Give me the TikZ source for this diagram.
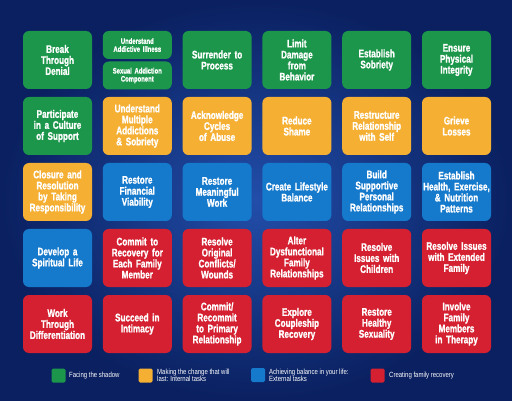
\documentclass[tikz,border=0pt]{standalone}
\usepackage{fontspec}
\newfontfamily\boxfont[FakeStretch=0.74,BoldFeatures={FakeBold=1.2}]{Liberation Sans}
\newfontfamily\legfont[FakeStretch=0.8]{Liberation Sans}
\def\juntar{\spaceskip=0.2em plus 0.1em\relax}

\definecolor{shadowgreen}{RGB}{28,150,74}
\definecolor{taskorange}{RGB}{245,176,52}
\definecolor{taskblue}{RGB}{22,122,204}
\definecolor{taskred}{RGB}{212,32,48}
\definecolor{fundo}{RGB}{10,32,96}
\definecolor{fundoclaro}{RGB}{34,78,170}

\tikzset{
  tarefa/.style={rounded corners=6pt, minimum width=69pt, minimum height=58pt,
    text width=67pt, align=center, inner sep=1pt, text=white,
    font=\boxfont\bfseries\fontsize{11}{11}\selectfont\juntar},
  meia/.style={tarefa, minimum height=28pt,
    font=\boxfont\bfseries\fontsize{8}{8}\selectfont\juntar},
  sombra/.style={fill=shadowgreen},
  interna/.style={fill=taskorange},
  externa/.style={fill=taskblue},
  familia/.style={fill=taskred},
  quadro/.style={rounded corners=1.5pt, minimum size=14pt, inner sep=0pt},
  legenda/.style={anchor=west, text=white, align=left, inner sep=0pt,
    font=\legfont\fontsize{7.5}{7.5}\selectfont}
}

\begin{document}
\begin{tikzpicture}[x=1pt,y=-1pt]

	\def\dx{79.8};
	\def\dy{66};
	\def\xa{57.5};
	\def\ya{60};

	% background
	\useasboundingbox (0,0) rectangle (512,401);
	\shade[inner color=fundoclaro, outer color=fundo] (0,0) rectangle (512,401);

	% row 1
	\node[tarefa,sombra] (denial) at (\xa,\ya) {Break\\Through\\Denial};
	\node[meia,sombra] (illness) at (\xa+\dx,45) {Understand\\Addictive Illness};
	\node[meia,sombra] (component) at (\xa+\dx,75.5) {Sexual Addiction\\Component};
	\node[tarefa,sombra] (surrender) at (\xa+2*\dx,\ya) {Surrender to\\Process};
	\node[tarefa,sombra] (damage) at (\xa+3*\dx,\ya) {Limit\\Damage\\from\\Behavior};
	\node[tarefa,sombra] (sobriety) at (\xa+4*\dx,\ya) {Establish\\Sobriety};
	\node[tarefa,sombra] (integrity) at (\xa+5*\dx,\ya) {Ensure\\Physical\\Integrity};

	% row 2
	\node[tarefa,sombra] (culture) at (\xa,\ya+\dy) {Participate\\in a Culture\\of Support};
	\node[tarefa,interna] (multiple) at (\xa+\dx,\ya+\dy) {Understand\\Multiple\\Addictions\\\& Sobriety};
	\node[tarefa,interna] (cycles) at (\xa+2*\dx,\ya+\dy) {Acknowledge\\Cycles\\of Abuse};
	\node[tarefa,interna] (shame) at (\xa+3*\dx,\ya+\dy) {Reduce\\Shame};
	\node[tarefa,interna] (self) at (\xa+4*\dx,\ya+\dy) {Restructure\\Relationship\\with Self};
	\node[tarefa,interna] (losses) at (\xa+5*\dx,\ya+\dy) {Grieve\\Losses};

	% row 3
	\node[tarefa,interna] (closure) at (\xa,\ya+2*\dy) {Closure and\\Resolution\\by Taking\\Responsibility};
	\node[tarefa,externa] (financial) at (\xa+\dx,\ya+2*\dy) {Restore\\Financial\\Viability};
	\node[tarefa,externa] (work) at (\xa+2*\dx,\ya+2*\dy) {Restore\\Meaningful\\Work};
	\node[tarefa,externa] (balance) at (\xa+3*\dx,\ya+2*\dy) {Create Lifestyle\\Balance};
	\node[tarefa,externa] (supportive) at (\xa+4*\dx,\ya+2*\dy) {Build\\Supportive\\Personal\\Relationships};
	\node[tarefa,externa] (health) at (\xa+5*\dx,\ya+2*\dy) {Establish\\Health, Exercise,\\\& Nutrition\\Patterns};

	% row 4
	\node[tarefa,externa] (spiritual) at (\xa,\ya+3*\dy) {Develop a\\Spiritual Life};
	\node[tarefa,familia] (member) at (\xa+\dx,\ya+3*\dy) {Commit to\\Recovery for\\Each Family\\Member};
	\node[tarefa,familia] (wounds) at (\xa+2*\dx,\ya+3*\dy) {Resolve\\Original\\Conflicts/\\Wounds};
	\node[tarefa,familia] (alter) at (\xa+3*\dx,\ya+3*\dy) {Alter\\Dysfunctional\\Family\\Relationships};
	\node[tarefa,familia] (children) at (\xa+4*\dx,\ya+3*\dy) {Resolve\\Issues with\\Children};
	\node[tarefa,familia] (extended) at (\xa+5*\dx,\ya+3*\dy) {Resolve Issues\\with Extended\\Family};

	% row 5
	\node[tarefa,familia] (differentiation) at (\xa,\ya+4*\dy) {Work\\Through\\Differentiation};
	\node[tarefa,familia] (intimacy) at (\xa+\dx,\ya+4*\dy) {Succeed in\\Intimacy};
	\node[tarefa,familia] (primary) at (\xa+2*\dx,\ya+4*\dy) {Commit/\\Recommit\\to Primary\\Relationship};
	\node[tarefa,familia] (coupleship) at (\xa+3*\dx,\ya+4*\dy) {Explore\\Coupleship\\Recovery};
	\node[tarefa,familia] (sexuality) at (\xa+4*\dx,\ya+4*\dy) {Restore\\Healthy\\Sexuality};
	\node[tarefa,familia] (therapy) at (\xa+5*\dx,\ya+4*\dy) {Involve\\Family\\Members\\in Therapy};

	% legend
	\node[quadro,sombra] (qa) at (58.5,375.5) {};
	\node[legenda] (la) at (69,375.5) {Facing the shadow};
	\node[quadro,interna] (qb) at (145.5,375.5) {};
	\node[legenda] (lb) at (157,375.5) {Making the change that will\\last: Internal tasks};
	\node[quadro,externa] (qc) at (258,375) {};
	\node[legenda] (lc) at (269,375.5) {Achieving balance in your life:\\External tasks};
	\node[quadro,familia] (qd) at (377.5,375.5) {};
	\node[legenda] (ld) at (389,375.5) {Creating family recovery};

\end{tikzpicture}
\end{document}
